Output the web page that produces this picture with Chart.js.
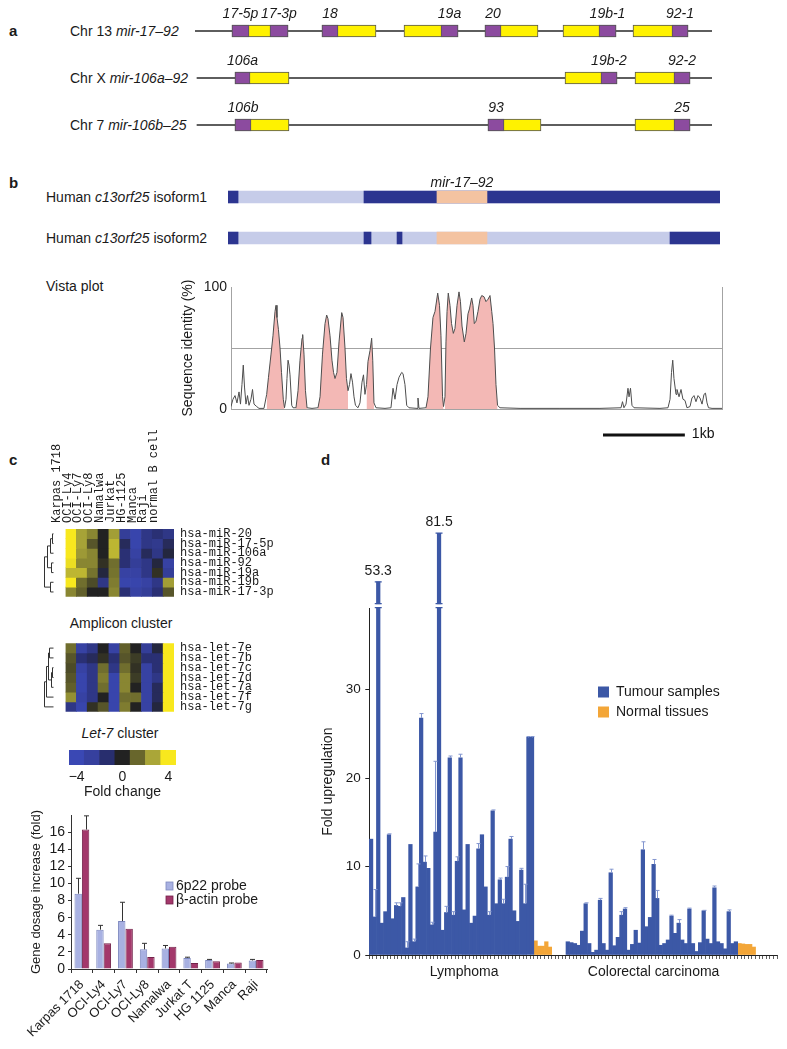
<!DOCTYPE html>
<html>
<head>
<meta charset="utf-8">
<title>mir-17–92 figure</title>
<script src="https://cdn.jsdelivr.net/npm/chart.js@4.4.1/dist/chart.umd.min.js"></script>
<style>
  html, body { margin:0; padding:0; background:#fff; }
  #page { position:relative; width:787px; height:1049px; overflow:hidden; background:#fff;
          font-family:"Liberation Sans", Arial, Helvetica, sans-serif; color:#1a1a1a; }
  #page canvas { position:absolute; }
  .t { position:absolute; white-space:nowrap; font-size:14px; line-height:1; transform:translateY(-50%); }
  .c { transform:translate(-50%,-50%); }
  .pl { font-weight:bold; font-size:15px; }
</style>
</head>
<body>
<div id="page">
  <div class="t pl" style="left:9px;top:30px">a</div>
  <div class="t" style="left:70px;top:31px">Chr 13 <i>mir-17–92</i></div>
  <div class="t" style="left:70px;top:78px">Chr X <i>mir-106a–92</i></div>
  <div class="t" style="left:70px;top:125px">Chr 7 <i>mir-106b–25</i></div>
  <div class="t pl" style="left:9px;top:182px">b</div>
  <div class="t" style="left:46px;top:197px">Human <i>c13orf25</i> isoform1</div>
  <div class="t" style="left:46px;top:238px">Human <i>c13orf25</i> isoform2</div>
  <div class="t" style="left:46px;top:286px">Vista plot</div>
  <div class="t pl" style="left:9px;top:459px">c</div>
  <div class="t pl" style="left:321px;top:459px">d</div>
  <div class="t c" style="left:121px;top:623px">Amplicon cluster</div>
  <div class="t c" style="left:120px;top:733px"><i>Let-7</i> cluster</div>
</div>
<script>
// ===================== DATA =====================
// Panel a – miRNA clusters (schematic positions along each cluster)
const clusterNames   = ['Chr 13 mir-17–92', 'Chr X mir-106a–92', 'Chr 7 mir-106b–25'];
const clusterSpan    = [[0, 517], [2, 517], [2, 517]];
const precursorRow   = [0, 0, 0, 0, 0, 0, 1, 1, 1, 2, 2, 2];
const precursorStart = [37, 127, 209, 290, 368, 438, 40, 370, 440, 40, 293, 440];
const precursorEnd   = [93, 181, 263, 343, 421, 493, 94, 422, 495, 94, 346, 495];
const matureName     = ['17-5p', '17-3p', '18', '19a', '20', '19b-1', '92-1', '106a', '19b-2', '92-2', '106b', '93', '25'];
const matureRow      = [0, 0, 0, 0, 0, 0, 0, 1, 1, 1, 2, 2, 2];
const matureStart    = [37, 75, 127, 246, 290, 404, 477, 40, 406, 479, 40, 293, 479];
const matureEnd      = [54, 93, 143, 263, 306, 421, 493, 55, 422, 495, 56, 309, 495];

// Panel b – c13orf25 isoforms (bp) and Vista conservation profile
const isoformNames     = ['Human c13orf25 isoform1', 'Human c13orf25 isoform2'];
const transcriptSpan   = [-37, 5976];
const isoform1Exons    = [[-37, 86], [1625, 5976]];
const isoform2Exons    = [[-37, 86], [1625, 1711], [2029, 2090], [5365, 5976]];
const mirClusterRegion = [2517, 3128];
const mirClusterLabel  = 'mir-17–92';
const vistaProfile = [[0,2],[24,8],[49,11],[73,5],[98,14],[116,4],[134,20],[150,36],[165,18],[183,4],[202,11],[220,3],[244,8],[263,16],[281,4],[314,2],[342,0.5],[403,0.5],[436,12],[458,26],[489,45],[513,60],[538,80],[550,85],[562,75],[580,65],[599,50],[617,30],[639,8],[654,1],[672,8],[684,25],[697,40],[709,36],[721,28],[742,3],[758,1],[794,1],[819,15],[843,40],[868,58],[876,61],[892,45],[910,15],[929,1],[990,0.5],[1063,1],[1088,10],[1118,45],[1149,70],[1169,77],[1185,74],[1210,60],[1234,40],[1253,30],[1271,25],[1295,30],[1320,55],[1353,79],[1369,75],[1393,50],[1411,25],[1430,15],[1448,20],[1466,29],[1485,22],[1503,10],[1521,3],[1552,1],[1576,5],[1601,22],[1619,28],[1637,12],[1656,20],[1674,39],[1699,48],[1719,58],[1732,40],[1747,5],[1772,1],[1882,0.5],[1955,1],[1980,17],[2004,8],[2029,20],[2053,26],[2086,30],[2102,29],[2126,20],[2147,3],[2175,1],[2273,0.5],[2285,9],[2297,0.5],[2383,1],[2407,10],[2438,50],[2468,75],[2493,80],[2526,95],[2548,85],[2566,60],[2585,10],[2597,2],[2615,10],[2627,55],[2640,80],[2655,95],[2676,85],[2695,70],[2717,62],[2737,66],[2762,85],[2786,96],[2804,88],[2823,68],[2851,55],[2872,62],[2896,78],[2914,82],[2941,91],[2957,85],[2973,70],[2994,72],[3018,80],[3043,90],[3064,93],[3092,92],[3116,88],[3141,90],[3165,93],[3186,80],[3202,70],[3220,50],[3238,20],[3257,3],[3287,1],[3532,0.5],[4020,0.5],[4509,0.5],[4766,1],[4784,6],[4802,1],[4827,4],[4851,17],[4864,10],[4882,17],[4900,3],[4925,1],[5242,0.5],[5340,1],[5365,8],[5383,30],[5398,40],[5413,25],[5438,12],[5450,16],[5475,10],[5499,16],[5523,8],[5548,7],[5572,1],[5609,2],[5633,9],[5658,11],[5682,6],[5707,11],[5731,9],[5756,4],[5780,12],[5798,13],[5817,5],[5835,1],[5878,0.5],[6000,0.5]];
const conservedRegions = [[436, 654], [794, 929], [1063, 1430], [1656, 1747], [2383, 2597], [2615, 3257]];
const vistaTicks = [0, 50, 100];
const vistaThreshold = 50;
const scaleBarStart = 4546, scaleBarLength = 1000, scaleBarLabel = '1kb';

// Panel c – miRNA expression heat maps
const cellLines    = ['Karpas 1718', 'OCI-Ly4', 'OCI-Ly7', 'OCI-Ly8', 'Namalwa', 'Jurkat', 'HG-1125', 'Manca', 'Raji', 'normal B cell'];
const ampliconMiRs = ['hsa-miR-20', 'hsa-miR-17-5p', 'hsa-miR-106a', 'hsa-miR-92', 'hsa-miR-19a', 'hsa-miR-19b', 'hsa-miR-17-3p'];
const ampliconFold = [
  [4.0, 2.6, 2.0, 0.0, 2.5, -2.5, -3.5, -2.0, -1.5, -2.0],
  [4.0, 2.6, 1.0, 0.0, 3.0, -1.0, -3.5, -2.0, -2.2, -1.0],
  [4.0, 2.4, 2.0, 0.0, 3.0, -1.5, -3.0, -1.0, -2.0, -0.5],
  [3.8, 2.0, 2.0, 0.3, 1.5, -1.5, -2.5, -2.0, -0.5, -3.0],
  [3.0, 3.0, 1.6, -0.5, 1.6, -3.0, -3.0, -2.0, 0.3, -2.5],
  [4.0, 1.5, 0.8, -2.0, 1.8, -3.5, -3.5, -3.0, -2.0, 2.5],
  [2.0, 1.2, 0.0, 0.0, 2.0, -1.5, -3.0, -2.5, -1.5, 1.0]
];
const ampliconTree = [[0, 1, 1], [3, 4, 1.5], [7, 2, 2], [9, 8, 3.5], [5, 6, 2], [10, 11, 5]];
const let7MiRs = ['hsa-let-7e', 'hsa-let-7b', 'hsa-let-7c', 'hsa-let-7d', 'hsa-let-7a', 'hsa-let-7f', 'hsa-let-7g'];
const let7Fold = [
  [1.5, -3.0, -2.0, 0.0, -3.0, 1.2, 0.0, -2.5, -0.5, 4.0],
  [1.0, -1.5, -1.0, 0.3, -1.5, 1.0, 0.5, -1.5, -1.5, 4.0],
  [0.8, -3.0, -2.0, 1.5, -2.0, 1.5, 0.3, -3.0, -1.5, 4.0],
  [1.0, -3.5, -2.0, 1.8, -3.5, 2.0, 0.5, -3.0, -2.0, 4.0],
  [1.2, -3.5, -2.0, 1.5, -3.5, 2.0, 0.0, -3.0, -1.0, 4.0],
  [2.2, -3.0, -2.0, 0.0, -3.5, 1.5, 1.5, -3.0, -1.0, 4.0],
  [-2.0, -3.5, 0.3, 1.0, -3.5, 1.8, 0.0, -3.0, -0.5, 4.0]
];
const let7Tree = [[2, 3, 1], [7, 4, 1.5], [0, 1, 2.5], [9, 8, 3], [10, 5, 3.6], [11, 6, 5]];
const foldScale = [-4, -2.667, -1.333, 0, 1.333, 2.667, 4];
const foldScaleLabelled = [-4, 0, 4];

// Panel c – gene dosage
const dosageLines    = ['Karpas 1718', 'OCI-Ly4', 'OCI-Ly7', 'OCI-Ly8', 'Namalwa', 'Jurkat T', 'HG 1125', 'Manca', 'Raji'];
const probe6p22      = [8.8, 4.6, 5.6, 2.3, 2.4, 1.3, 1.05, 0.65, 1.0];
const probe6p22Upper = [10.6, 5.1, 7.8, 3.0, 2.75, 1.38, 1.12, 0.7, 1.12];
const actinProbe     = [16.3, 3.0, 4.7, 1.4, 2.6, 0.7, 0.9, 0.75, 1.05];
const actinUpper     = [17.9, null, null, null, null, null, null, null, null];
const dosageTicks    = [0, 2, 4, 6, 8, 10, 12, 14, 16];

// Panel d – fold upregulation of mir-17–92
const lymphomaTumour = [13.1, 4.3, 53.3, 3.6, 4.9, 13.6, 4.1, 5.6, 5.5, 6.5, 0.8, 12.5, 1.5, 7.7, 26.8, 10.5, 9.8, 3.4, 13.9, 81.5, 2.8, 4.8, 22.3, 4.5, 10.6, 22.3, 5.1, 12.5, 3.6, 4.4, 12.0, 13.6, 7.7, 4.5, 16.3, 5.8, 8.5, 5.8, 8.8, 13.1, 5.0, 3.8, 9.6, 5.8, 24.6, 24.6];
const lymphomaTumourUpper = [null, 7.4, null, null, null, 13.7, null, 5.9, 5.9, null, 1.5, null, 1.8, 10.3, 27.3, 11.2, null, 3.7, 21.9, null, null, 5.5, 22.5, 4.9, 11.1, 22.7, null, null, null, null, 12.6, null, null, 4.9, 16.4, null, 8.7, 6.3, 10.0, 13.4, null, null, 9.8, 8.0, 24.7, 24.7];
const lymphomaNormal = [1.6, 1.0, 1.0, 1.5, 0.9];
const colorectalTumour = [1.5, 1.4, 1.3, 1.1, 2.7, 5.8, 1.3, 0.3, 0.55, 6.2, 1.3, 0.55, 9.3, 1.05, 2.0, 4.5, 5.2, 0.55, 1.2, 2.8, 1.35, 11.9, 3.2, 4.25, 10.25, 6.4, 1.1, 1.3, 1.7, 4.4, 2.45, 3.6, 1.7, 1.3, 5.2, 1.3, 0.4, 1.4, 5.0, 1.8, 1.3, 7.6, 1.5, 1.3, 0.7, 4.9, 1.3, 1.5];
const colorectalTumourUpper = [null, null, null, null, null, 5.9, null, null, null, 6.4, null, null, 9.7, null, null, 4.9, 5.35, null, null, null, null, 12.8, null, null, 10.8, 7.3, null, null, null, 4.5, null, 4.0, null, null, 5.3, null, null, null, 5.05, null, null, 7.8, null, null, null, 5.1, null, null];
const colorectalNormal = [1.3, 1.25, 1.2, 1.2, 0.9];
const groupLabels    = ['Lymphoma', 'Colorectal carcinoma'];
const groupLabelSlot = [26, 79];
const upregTicks     = [0, 10, 20, 30];
const GAP_SLOTS = 4, TRAIL_SLOTS = 6;
const AXIS_BREAK = 39.5, BREAK_COMPRESSION = 0.195;

// ===================== HELPERS =====================
const FONT = '"Liberation Sans", Arial, Helvetica, sans-serif';
const MONO = '"Liberation Mono", "DejaVu Sans Mono", monospace';
Chart.defaults.font.family = FONT;
Chart.defaults.font.size = 14;
Chart.defaults.color = '#1a1a1a';

function canvasAt(left, top, w, h) {
  const c = document.createElement('canvas');
  c.width = w; c.height = h;
  c.style.left = left + 'px'; c.style.top = top + 'px';
  c.style.width = w + 'px'; c.style.height = h + 'px';
  document.getElementById('page').appendChild(c);
  return c;
}
function opts(o) {
  return Object.assign({ responsive: false, maintainAspectRatio: false, animation: false, devicePixelRatio: 1, events: [] }, o, {
    plugins: Object.assign({ legend: { display: false }, tooltip: { enabled: false } }, o.plugins || {})
  });
}
const FOLD_STOPS = [[-4, [58, 72, 180]], [-2.667, [54, 64, 158]], [-1.333, [40, 46, 110]], [0, [34, 34, 34]],
                    [1.333, [104, 102, 44]], [2.667, [170, 166, 56]], [4, [248, 232, 30]]];
function foldColor(v) {
  v = Math.max(-4, Math.min(4, v));
  for (let i = 0; i < FOLD_STOPS.length - 1; i++) {
    const [a, ca] = FOLD_STOPS[i], [b, cb] = FOLD_STOPS[i + 1];
    if (v <= b) {
      const t = (v - a) / (b - a);
      return 'rgb(' + ca.map((c, k) => Math.round(c + (cb[k] - c) * t)).join(',') + ')';
    }
  }
  return 'rgb(248,232,30)';
}
const nulls = n => Array(n).fill(null);
const broken = v => v == null ? null : (v > AXIS_BREAK ? AXIS_BREAK + (v - AXIS_BREAK) * BREAK_COMPRESSION : v);

// ===================== PLUGINS =====================
const matureLabelPlugin = { id: 'matureLabels', afterDatasetsDraw(chart) {
  const { ctx, scales: { x, y } } = chart;
  ctx.save(); ctx.font = 'italic 14px ' + FONT; ctx.fillStyle = '#1a1a1a';
  ctx.textAlign = 'center'; ctx.textBaseline = 'middle';
  matureName.forEach((n, i) => ctx.fillText(n, x.getPixelForValue((matureStart[i] + matureEnd[i]) / 2), y.getPixelForValue(matureRow[i]) - 16.5));
  ctx.restore();
}};
const mirLabelPlugin = { id: 'mirLabel', afterDatasetsDraw(chart) {
  const { ctx, scales: { x, y } } = chart;
  ctx.save(); ctx.font = 'italic 14px ' + FONT; ctx.fillStyle = '#1a1a1a';
  ctx.textAlign = 'center'; ctx.textBaseline = 'middle';
  ctx.fillText(mirClusterLabel, x.getPixelForValue((mirClusterRegion[0] + mirClusterRegion[1]) / 2), y.getPixelForValue(0) - 14);
  ctx.restore();
}};
const scaleBarPlugin = { id: 'scaleBar', afterDraw(chart) {
  const { ctx, chartArea, scales: { x } } = chart;
  const x0 = x.getPixelForValue(scaleBarStart), x1 = x.getPixelForValue(scaleBarStart + scaleBarLength);
  const y = chartArea.bottom + 26;
  ctx.save(); ctx.fillStyle = '#111'; ctx.fillRect(x0, y - 1.5, x1 - x0, 3);
  ctx.font = '14px ' + FONT; ctx.textBaseline = 'middle'; ctx.textAlign = 'left';
  ctx.fillText(scaleBarLabel, x1 + 7, y - 1);
  ctx.restore();
}};
const dendroPlugin = { id: 'dendro', afterDraw(chart, args, o) {
  if (!o || !o.tree) return;
  const { ctx, chartArea, scales: { y } } = chart;
  const x0 = chartArea.left - o.leafGap;
  const nodes = o.rows.map((_, i) => ({ x: x0, y: y.getPixelForValue(i + 0.5) }));
  ctx.save(); ctx.strokeStyle = '#333'; ctx.lineWidth = 1; ctx.beginPath();
  o.tree.forEach(([a, b, h]) => {
    const na = nodes[a], nb = nodes[b];
    const x = Math.round(x0 - h * o.unit) + 0.5;
    ctx.moveTo(na.x, na.y); ctx.lineTo(x, na.y); ctx.lineTo(x, nb.y); ctx.lineTo(nb.x, nb.y);
    nodes.push({ x, y: (na.y + nb.y) / 2 });
  });
  ctx.stroke(); ctx.restore();
}};
const errorBarPlugin = { id: 'errbars', afterDatasetsDraw(chart, args, o) {
  const { ctx, scales: { y } } = chart;
  chart.data.datasets.forEach((ds, di) => {
    if (!ds.upper) return;
    const meta = chart.getDatasetMeta(di);
    ctx.save(); ctx.strokeStyle = o.color; ctx.lineWidth = o.width || 1; ctx.beginPath();
    ds.upper.forEach((u, i) => {
      if (u == null || ds.data[i] == null) return;
      const el = meta.data[i];
      const x = Math.round(el.x) + 0.5, y0 = y.getPixelForValue(ds.data[i]), y1 = y.getPixelForValue(u);
      ctx.moveTo(x, y0); ctx.lineTo(x, y1);
      ctx.moveTo(x - o.cap / 2, y1); ctx.lineTo(x + o.cap / 2, y1);
    });
    ctx.stroke(); ctx.restore();
  });
}};
const boxLegendPlugin = { id: 'boxLegend', afterDraw(chart, args, o) {
  const ctx = chart.ctx;
  ctx.save(); ctx.font = o.size + 'px ' + FONT; ctx.textBaseline = 'middle'; ctx.textAlign = 'left';
  chart.data.datasets.forEach((ds, i) => {
    const y = o.y + i * o.gap;
    ctx.fillStyle = ds.backgroundColor; ctx.fillRect(o.x, y - o.bh / 2, o.bw, o.bh);
    if (o.stroke) { ctx.strokeStyle = ds.borderColor; ctx.lineWidth = 0.8; ctx.strokeRect(o.x, y - o.bh / 2, o.bw, o.bh); }
    ctx.fillStyle = '#1a1a1a'; ctx.fillText(ds.label, o.x + o.bw + o.tx, y);
  });
  ctx.restore();
}};
const breakPlugin = { id: 'axisBreak', afterDatasetsDraw(chart, args, o) {
  const ds = chart.data.datasets[0], meta = chart.getDatasetMeta(0), { ctx, scales: { y } } = chart;
  const yb = y.getPixelForValue(o.at);
  ctx.save();
  ds.raw.forEach((v, i) => {
    if (v == null || v <= o.at) return;
    const el = meta.data[i], half = el.width / 2 + 1.7;
    ctx.fillStyle = '#fff'; ctx.fillRect(el.x - half, yb - 1.5, 2 * half, 3);
    ctx.strokeStyle = ds.backgroundColor; ctx.lineWidth = 1.3; ctx.beginPath();
    [yb - 2, yb + 2, el.y].forEach(yy => { ctx.moveTo(el.x - half, yy); ctx.lineTo(el.x + half, yy); });
    ctx.stroke();
    ctx.fillStyle = '#1a1a1a'; ctx.font = '14px ' + FONT; ctx.textAlign = 'center'; ctx.textBaseline = 'middle';
    ctx.fillText(v.toFixed(1), el.x, el.y - 11);
  });
  ctx.restore();
}};

// ===================== PANEL a =====================
new Chart(canvasAt(0, 0, 787, 150), {
  type: 'bar',
  data: { labels: clusterNames, datasets: [
    { data: clusterSpan.map((s, i) => ({ x: s, y: clusterNames[i] })), backgroundColor: '#5e5e5e', barThickness: 1.2, grouped: false, order: 3 },
    { data: precursorStart.map((s, i) => ({ x: [s, precursorEnd[i]], y: clusterNames[precursorRow[i]] })),
      backgroundColor: '#fff200', borderColor: '#555', borderWidth: 1, borderSkipped: false, barThickness: 12, grouped: false, order: 2 },
    { data: matureStart.map((s, i) => ({ x: [s, matureEnd[i]], y: clusterNames[matureRow[i]] })),
      backgroundColor: '#8c4b9f', borderColor: '#555', borderWidth: 1, borderSkipped: false, barThickness: 12, grouped: false, order: 1 }
  ]},
  options: opts({ indexAxis: 'y', layout: { padding: { left: 195, right: 75, top: 7.5, bottom: 1.5 } },
    scales: { x: { type: 'linear', min: 0, max: 517, display: false }, y: { type: 'category', display: false } } }),
  plugins: [matureLabelPlugin]
});

// ===================== PANEL b: isoforms =====================
new Chart(canvasAt(0, 160, 787, 100), {
  type: 'bar',
  data: { labels: isoformNames, datasets: [
    { data: isoformNames.map(n => ({ x: transcriptSpan, y: n })), backgroundColor: '#c6cce9', barThickness: 12, grouped: false, order: 3 },
    { data: [...isoform1Exons.map(e => ({ x: e, y: isoformNames[0] })), ...isoform2Exons.map(e => ({ x: e, y: isoformNames[1] }))],
      backgroundColor: '#2c3590', barThickness: 12, grouped: false, order: 2 },
    { data: isoformNames.map(n => ({ x: mirClusterRegion, y: n })), backgroundColor: '#f4c3a1', barThickness: 12, grouped: false, order: 1 }
  ]},
  options: opts({ indexAxis: 'y', layout: { padding: { left: 228, right: 67, top: 16.5, bottom: 1.5 } },
    scales: { x: { type: 'linear', min: transcriptSpan[0], max: transcriptSpan[1], display: false }, y: { type: 'category', display: false } } }),
  plugins: [mirLabelPlugin]
});

// ===================== PANEL b: Vista plot =====================
const conservedPts = [];
conservedRegions.forEach(([a, b]) => {
  vistaProfile.forEach(([p, v]) => { if (p >= a && p <= b) conservedPts.push({ x: p, y: v }); });
  conservedPts.push({ x: b + 1, y: null });
});
new Chart(canvasAt(170, 270, 617, 175), {
  type: 'line',
  data: { datasets: [
    { data: vistaProfile.map(([p, v]) => ({ x: p, y: v })), borderColor: '#4d4d4d', borderWidth: 1, pointRadius: 0, fill: false, tension: 0 },
    { data: conservedPts, borderColor: 'rgba(0,0,0,0)', borderWidth: 0, backgroundColor: '#f3b8b5', fill: 'origin', pointRadius: 0, spanGaps: false, tension: 0 }
  ]},
  options: opts({
    layout: { padding: { left: 0, right: 65, top: 17, bottom: 36 } },
    scales: {
      x: { type: 'linear', min: 0, max: 6000, display: false },
      y: { min: 0, max: 100,
           afterBuildTicks: s => { s.ticks = vistaTicks.map(v => ({ value: v })); },
           afterFit: s => { s.width = 61; },
           ticks: { autoSkip: false, callback: v => (v === vistaThreshold ? '' : String(v)), font: { size: 14 }, padding: 4 },
           grid: { drawTicks: false, color: c => (c.tick && (c.tick.value === vistaThreshold || c.tick.value === 0)) ? '#a3a3a3' : 'rgba(0,0,0,0)' },
           border: { display: true, color: '#a3a3a3' },
           title: { display: true, text: 'Sequence identity (%)', font: { size: 14 }, padding: { top: 9.6, bottom: 0 } } },
      y2: { position: 'right', min: 0, max: 100, afterFit: s => { s.width = 0; },
            ticks: { display: false }, grid: { display: false, drawTicks: false }, border: { display: true, color: '#a3a3a3' } }
    }
  }),
  plugins: [scaleBarPlugin]
});

// ===================== PANEL c: heat maps =====================
function heatmapChart(left, top, w, h, rows, matrix, tree, showColumns, pad, xh) {
  return new Chart(canvasAt(left, top, w, h), {
    type: 'bar',
    data: { labels: cellLines, datasets: rows.map((r, i) => ({ label: r, data: cellLines.map(() => 1),
      backgroundColor: matrix[i].map(foldColor), borderWidth: 0, barPercentage: 1, categoryPercentage: 1 })) },
    options: opts({
      layout: { padding: pad },
      scales: {
        x: { type: 'category', position: 'top', stacked: true, display: showColumns,
             grid: { display: false, drawTicks: false }, border: { display: false },
             ticks: { autoSkip: false, minRotation: 90, maxRotation: 90, padding: 6, font: { family: MONO, size: 12 } },
             afterFit: s => { s.height = xh; } },
        y: { type: 'linear', position: 'right', stacked: true, min: 0, max: rows.length, reverse: true,
             grid: { display: false, drawTicks: false }, border: { display: false },
             afterBuildTicks: s => { s.ticks = rows.map((_, i) => ({ value: i + 0.5 })); },
             ticks: { autoSkip: false, padding: 6, font: { family: MONO, size: 12 }, callback: (v, i) => rows[i] },
             afterFit: s => { s.width = 126; } }
      },
      plugins: { dendro: { tree, rows, leafGap: 12, unit: 2 } }
    }),
    plugins: [dendroPlugin]
  });
}
heatmapChart(0, 430, 300, 180, ampliconMiRs, ampliconFold, ampliconTree, true, { left: 65.5, right: 0, top: 0, bottom: 5 }, 99);
heatmapChart(0, 630, 300, 95, let7MiRs, let7Fold, let7Tree, false, { left: 65.5, right: 0, top: 10, bottom: 10 }, 0);

// colour key
new Chart(canvasAt(0, 745, 300, 62), {
  type: 'bar',
  data: { labels: foldScale.map(String), datasets: [{ data: foldScale.map(() => 1), backgroundColor: foldScale.map(foldColor),
    borderWidth: 0, barPercentage: 1, categoryPercentage: 1 }] },
  options: opts({
    layout: { padding: { left: 69, right: 124, top: 5, bottom: 6 } },
    scales: {
      x: { grid: { display: false, drawTicks: false }, border: { display: false },
           ticks: { autoSkip: false, maxRotation: 0, minRotation: 0, padding: 3.6, font: { size: 14 },
                    callback: (v, i) => foldScaleLabelled.includes(foldScale[i]) ? String(foldScale[i]).replace('-', '\u2212') : '' },
           title: { display: true, text: 'Fold change', font: { size: 14 }, padding: { top: 0, bottom: 0 } },
           afterFit: s => { s.height = 36; } },
      y: { display: false, min: 0, max: 1 }
    }
  })
});

// gene dosage bars
new Chart(canvasAt(0, 800, 300, 249), {
  type: 'bar',
  data: { labels: dosageLines, datasets: [
    { label: '6p22 probe', data: probe6p22, upper: probe6p22Upper, backgroundColor: '#a8b1e2', borderColor: '#7d88bf', borderWidth: 1, categoryPercentage: 0.68, barPercentage: 1 },
    { label: 'β-actin probe', data: actinProbe, upper: actinUpper, backgroundColor: '#a3386b', borderColor: '#73224a', borderWidth: 1, categoryPercentage: 0.68, barPercentage: 1 }
  ]},
  options: opts({
    layout: { padding: { left: 0, right: 33, top: 15, bottom: 0 } },
    scales: {
      x: { grid: { drawOnChartArea: false, drawTicks: true, tickLength: 4, color: '#333', offset: true }, border: { color: '#333' },
           ticks: { autoSkip: false, minRotation: 45, maxRotation: 45, padding: 4, font: { size: 13 } },
           afterFit: s => { s.height = 80; } },
      y: { min: 0, max: 18,
           afterBuildTicks: s => { s.ticks = dosageTicks.map(v => ({ value: v })); },
           grid: { drawOnChartArea: false, tickLength: 3, color: '#333' }, border: { color: '#333' },
           ticks: { autoSkip: false, padding: 3, font: { size: 14 } },
           title: { display: true, text: 'Gene dosage increase (fold)', font: { size: 13 }, padding: { top: 29, bottom: 0 } },
           afterFit: s => { s.width = 71; } }
    },
    plugins: { errbars: { color: '#333', cap: 5, width: 1 }, boxLegend: { x: 166, y: 86, bw: 7, bh: 8, gap: 14, tx: 3, size: 14, stroke: true } }
  }),
  plugins: [errorBarPlugin, boxLegendPlugin]
});

// ===================== PANEL d =====================
const tumourSlots = [...lymphomaTumour, ...nulls(lymphomaNormal.length), ...nulls(GAP_SLOTS), ...colorectalTumour, ...nulls(colorectalNormal.length), ...nulls(TRAIL_SLOTS)];
const tumourUpperSlots = [...lymphomaTumourUpper, ...nulls(lymphomaNormal.length), ...nulls(GAP_SLOTS), ...colorectalTumourUpper, ...nulls(colorectalNormal.length), ...nulls(TRAIL_SLOTS)];
const normalSlots = [...nulls(lymphomaTumour.length), ...lymphomaNormal, ...nulls(GAP_SLOTS), ...nulls(colorectalTumour.length), ...colorectalNormal, ...nulls(TRAIL_SLOTS)];
new Chart(canvasAt(300, 440, 487, 609), {
  type: 'bar',
  data: { labels: tumourSlots.map((_, i) => String(i)), datasets: [
    { label: 'Tumour samples', data: tumourSlots.map(broken), upper: tumourUpperSlots.map(broken), raw: tumourSlots,
      backgroundColor: '#3c58a6', borderWidth: 0, barPercentage: 1, categoryPercentage: 1, grouped: false, clip: false },
    { label: 'Normal tissues', data: normalSlots, backgroundColor: '#f3a638', borderWidth: 0, barPercentage: 1, categoryPercentage: 1, grouped: false, clip: false }
  ]},
  options: opts({
    layout: { padding: { left: 0, right: 10, top: 168.3, bottom: 64 } },
    scales: {
      x: { grid: { drawOnChartArea: false, drawTicks: true, tickLength: 4, color: '#333', offset: true, lineWidth: 0.8 }, border: { color: '#222' },
           ticks: { autoSkip: false, maxRotation: 0, minRotation: 0, padding: 4.6, font: { size: 14 },
                    callback: (v, i) => { const k = groupLabelSlot.indexOf(i); return k >= 0 ? groupLabels[k] : ''; } },
           afterFit: s => { s.height = 30; } },
      y: { min: 0, max: 39.2,
           afterBuildTicks: s => { s.ticks = upregTicks.map(v => ({ value: v })); },
           grid: { drawOnChartArea: false, tickLength: 4, color: '#222' }, border: { color: '#222' },
           ticks: { autoSkip: false, padding: 4.6, font: { size: 13.5 } },
           title: { display: true, text: 'Fold upregulation', font: { size: 14 }, padding: { top: 19.6, bottom: 0 } },
           afterFit: s => { s.width = 69.3; } }
    },
    plugins: { errbars: { color: '#8396cf', cap: 4, width: 1 }, axisBreak: { at: AXIS_BREAK },
               boxLegend: { x: 298, y: 252, bw: 11, bh: 11, gap: 20, tx: 7, size: 14, stroke: false } }
  }),
  plugins: [errorBarPlugin, breakPlugin, boxLegendPlugin]
});
</script>
</body>
</html>
